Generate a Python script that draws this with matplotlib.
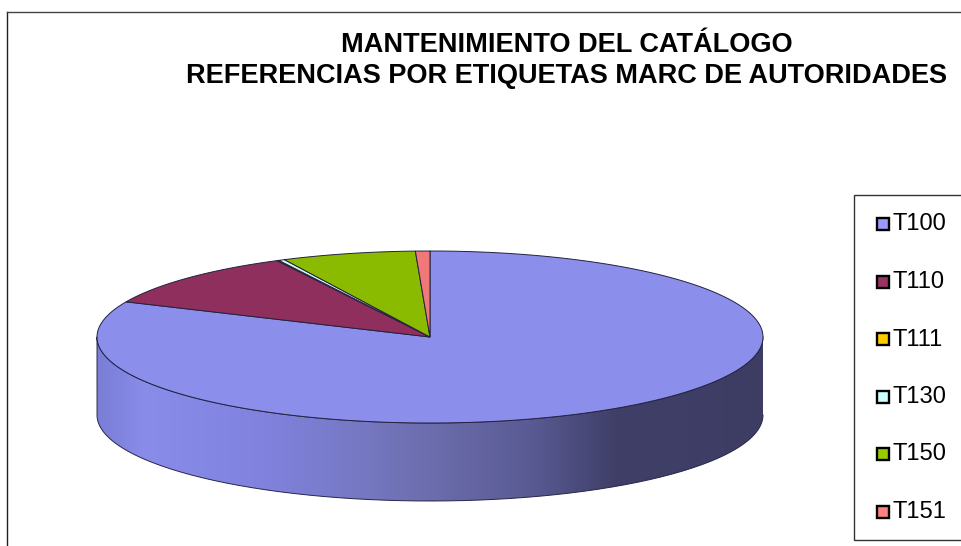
#!/usr/bin/env python

import numpy as np
import matplotlib.pyplot as plt
from matplotlib.colors import LinearSegmentedColormap
from matplotlib.patches import Rectangle, PathPatch
from matplotlib.path import Path

plt.rcParams['font.family'] = ['Liberation Sans', 'DejaVu Sans']

# Share of each label (percent)
labels = ['T100', 'T110', 'T111', 'T130', 'T150', 'T151']
values = [81.7, 10.7, 0.1, 0.3, 6.5, 0.7]
top_colors = ['#8c8eec', '#8f2f5e', '#f0c000', '#d8f6f6', '#8bbb00', '#f07878']
legend_colors = ['#9999ff', '#993366', '#ffcc00', '#ccffff', '#99cc00', '#ff8080']
title_lines = ['MANTENIMIENTO DEL CATÁLOGO', 'REFERENCIAS POR ETIQUETAS MARC DE AUTORIDADES']

# Pie geometry in pixels
cx, cy = 430, 337
rx, ry = 333, 86
depth = 78

fig = plt.figure(figsize=(9.62, 5.46), dpi=100)
ax = fig.add_axes([0, 0, 1, 1])
ax.set_xlim(0, 962)
ax.set_ylim(546, 0)
ax.axis('off')

# Outer frame of the chart
ax.plot([7.5, 7.5], [546, 11.5], color='#222222', lw=1)
ax.plot([7.5, 962], [11.5, 11.5], color='#444444', lw=1)


def rim(a0, a1, n=200):
    # angle measured clockwise from 12 o'clock
    t = np.radians(np.linspace(a0, a1, n))
    return cx + rx*np.sin(t), cy - ry*np.cos(t)


# Side wall, a horizontal shading clipped to the visible front part
xs, ys = rim(90, 270)
wall = np.vstack([np.column_stack([xs, ys]),
                  np.column_stack([xs[::-1], ys[::-1] + depth])])
clip = PathPatch(Path(np.vstack([wall, wall[:1]])), fc='none', ec='none')
ax.add_patch(clip)
shade = LinearSegmentedColormap.from_list('wall', [
    (0.0, '#7a7ed6'), (0.07, '#8a8cea'), (0.25, '#8082de'), (0.41, '#7577c0'),
    (0.51, '#6a6cab'), (0.65, '#5a5b94'), (0.78, '#3f3f68'), (1.0, '#3d3d64')])
im = ax.imshow(np.linspace(0, 1, 400)[None, :], cmap=shade, aspect='auto',
               extent=[cx-rx, cx+rx, cy+ry+depth, cy], zorder=1)
im.set_clip_path(clip)
ax.set_xlim(0, 962)
ax.set_ylim(546, 0)
ax.plot(wall[:, 0], wall[:, 1], color='#26264a', lw=0.7, zorder=2)

# Top face: the slices run clockwise from 12 o'clock
start = 0
for v, c in zip(values, top_colors):
    sweep = v/sum(values)*360
    xs, ys = rim(start, start + sweep)
    ax.fill(np.r_[cx, xs], np.r_[cy, ys], fc=c, ec='#22223f', lw=0.7, zorder=3)
    start += sweep

# Title
ax.text(567, 52, title_lines[0], ha='center', va='baseline', fontsize=19.5, fontweight='bold', color='black')
ax.text(567, 83, title_lines[1], ha='center', va='baseline', fontsize=19.5, fontweight='bold', color='black')

# Legend
ax.add_patch(Rectangle((854.5, 195), 120, 345, fc='white', ec='#333333', lw=1, zorder=4))
for i, (name, c) in enumerate(zip(labels, legend_colors)):
    y = 224 + i*57.5
    ax.add_patch(Rectangle((877, y-6), 12, 12, fc=c, ec='black', lw=1.7, zorder=5))
    ax.text(893, y+0.5, name, ha='left', va='center', fontsize=17.1, color='black', zorder=5)

fig.savefig('out.png', dpi=100)
